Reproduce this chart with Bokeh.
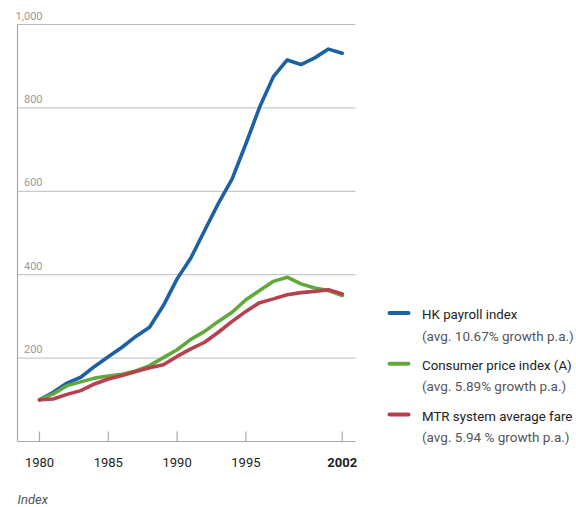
from bokeh.plotting import figure
from bokeh.models import Range1d
from bokeh.core.properties import value
from bokeh.embed import file_html
from bokeh.resources import INLINE

# ---------------- data ----------------
years = list(range(1980, 2003))
payroll = [100, 118, 140, 154, 180, 203, 226, 252, 274, 326, 390, 440, 506, 571,
           630, 714, 802, 875, 915, 904, 920, 941, 931]
cpi = [100, 114, 134, 143, 152, 157, 161, 169, 182, 201, 220, 245, 264, 288,
       310, 340, 362, 384, 394, 378, 368, 362, 350]
fare = [100, 102, 113, 122, 138, 150, 158, 168, 177, 184, 204, 222, 238, 262,
        288, 312, 333, 342, 352, 357, 360, 364, 354]
series_names = ["HK payroll index", "Consumer price index (A)", "MTR system average fare"]
series_notes = ["(avg. 10.67% growth p.a.)", "(avg. 5.89% growth p.a.)", "(avg. 5.94 % growth p.a.)"]
x_ticks = [1980, 1985, 1990, 1995, 2002]
x_tick_labels = ["1980", "1985", "1990", "1995", "2002"]
y_ticks = [200, 400, 600, 800, 1000]
y_tick_labels = ["200", "400", "600", "800", "1,000"]
y_axis_label = "Index"

# ---------------- layout / style ----------------
W, H = 576, 507
PXY = 13.76          # pixels per year
PXU = 0.417          # pixels per index unit
ORIGIN_X = 39        # canvas px of 1980
ORIGIN_Y = 441       # canvas px of value 0
TDY = -5             # text baseline correction (px)
x_start = 1980 - ORIGIN_X / PXY
x_end = x_start + W / PXY
y_start = -(H - ORIGIN_Y) / PXU
y_end = y_start + H / PXU


def dx(px):
    return x_start + px / PXY


def dy(py):
    return y_start + (H - py) / PXU


colors = ["#1d61a5", "#63a83c", "#b7404f"]
FONT = value("Roboto")

p = figure(width=W, height=H, output_backend="svg", toolbar_location=None,
           x_range=Range1d(x_start, x_end), y_range=Range1d(y_start, y_end),
           min_border=0, min_border_left=0, min_border_right=0,
           min_border_top=0, min_border_bottom=0)
p.axis.visible = False
p.grid.visible = False
p.outline_line_color = None
p.background_fill_color = "white"
p.border_fill_color = "white"

x_left = dx(17)
x_right = dx(355)

# gridlines
p.segment(x0=[x_left] * len(y_ticks), y0=y_ticks, x1=[x_right] * len(y_ticks), y1=y_ticks,
          line_color="#bcbcbc", line_width=1)
# axes
p.segment(x0=[x_left], y0=[0], x1=[x_right], y1=[0], line_color="#aaaaaa", line_width=1.2)
p.segment(x0=[x_left], y0=[0], x1=[x_left], y1=[max(y_ticks)], line_color="#aaaaaa", line_width=1.2)
# x ticks (inside)
p.segment(x0=x_ticks, y0=[0] * len(x_ticks), x1=x_ticks, y1=[10 / PXU] * len(x_ticks),
          line_color="#aaaaaa", line_width=1.2)

# series
for vals, c in zip([payroll, cpi, fare], colors):
    p.line(years, vals, line_color=c, line_width=3.6, line_join="round", line_cap="round")

# y tick labels
p.text(x=[dx(42)] * len(y_ticks), y=[v + (4 - TDY) / PXU for v in y_ticks], text=y_tick_labels,
       text_align="right", text_baseline="alphabetic", text_font=FONT,
       text_font_size="11px", text_color="#9a9a9a")

# x tick labels
normal = [i for i, t in enumerate(x_ticks) if t != 2002]
p.text(x=[x_ticks[i] for i in normal], y=[dy(467 + TDY)] * len(normal),
       text=[x_tick_labels[i] for i in normal], text_align="center",
       text_baseline="alphabetic", text_font=FONT, text_font_size="13px", text_color="#222222")
bold = [i for i, t in enumerate(x_ticks) if t == 2002]
p.text(x=[x_ticks[i] for i in bold], y=[dy(467 + TDY)] * len(bold),
       text=[x_tick_labels[i] for i in bold], text_align="center",
       text_baseline="alphabetic", text_font=FONT, text_font_size="13px",
       text_font_style="bold", text_color="#222222")

# axis label
p.text(x=[dx(17)], y=[dy(504 + TDY)], text=[y_axis_label], text_align="left",
       text_baseline="alphabetic", text_font=FONT, text_font_size="13px",
       text_font_style="italic", text_color="#555555")

# legend
LEG_BASE = 319
LEG_STEP = 50.8
for i, (name, note, c) in enumerate(zip(series_names, series_notes, colors)):
    base = LEG_BASE + i * LEG_STEP
    p.line([dx(389), dx(408)], [dy(base - 6.5)] * 2, line_color=c, line_width=4, line_cap="round")
    p.text(x=[dx(421.5)], y=[dy(base + TDY)], text=[name], text_align="left",
           text_baseline="alphabetic", text_font=FONT, text_font_size="13.3px", text_color="#222222")
    p.text(x=[dx(421.5)], y=[dy(base + 21 + TDY)], text=[note], text_align="left",
           text_baseline="alphabetic", text_font=FONT, text_font_size="13.5px", text_color="#555555")

open("out.html", "w").write(file_html(p, INLINE))
